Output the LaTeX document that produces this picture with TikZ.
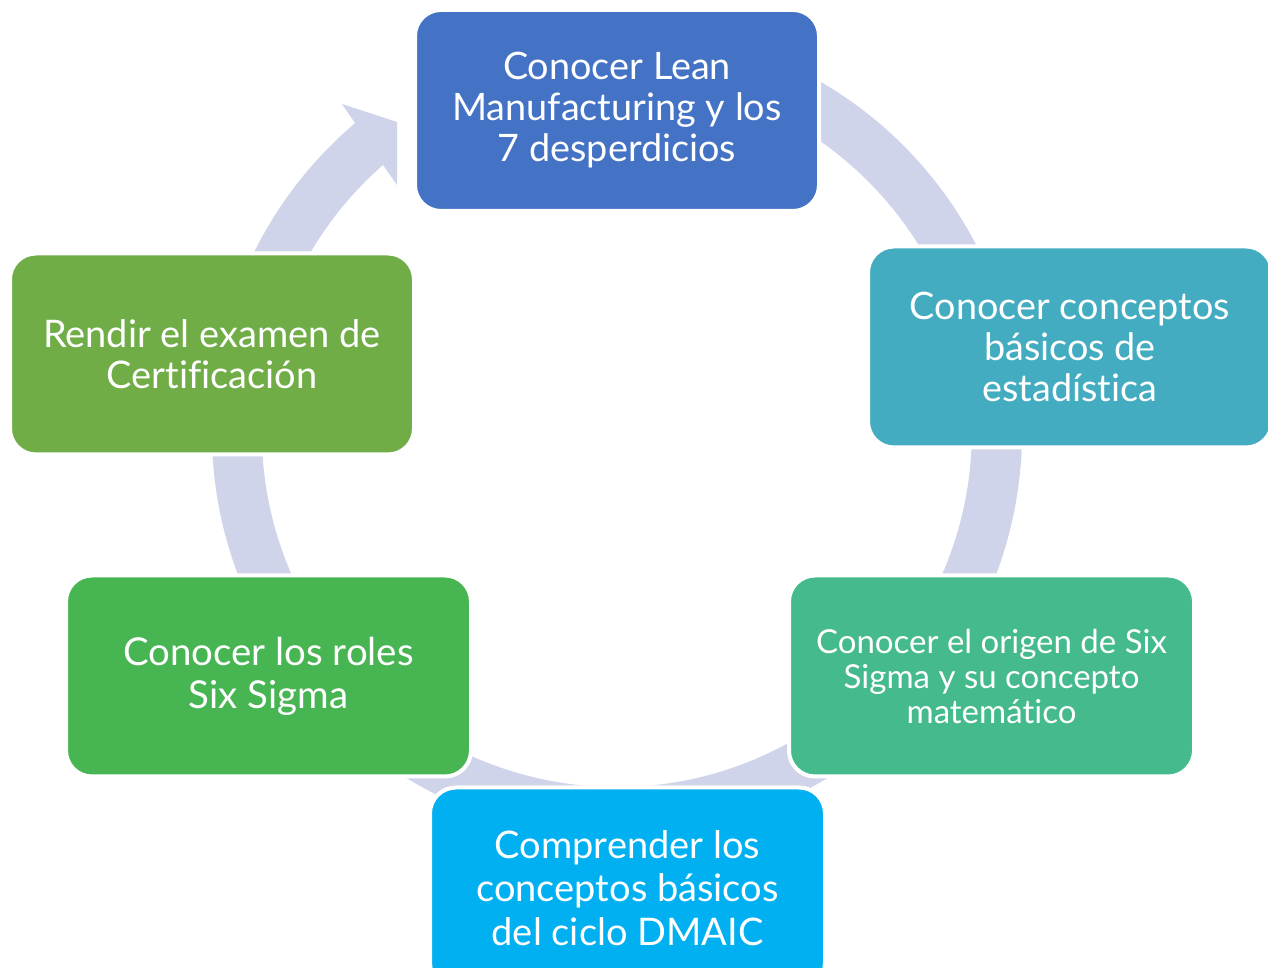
\documentclass[tikz,border=0pt]{standalone}
\usepackage{fontspec}
\setmainfont{Lato}[Ligatures=NoCommon]

\definecolor{azulLean}{HTML}{4472C4}
\definecolor{tealEstad}{HTML}{43ACC1}
\definecolor{verdeOrigen}{HTML}{44BA8D}
\definecolor{celesteDmaic}{HTML}{00B0F0}
\definecolor{verdeRoles}{HTML}{48B553}
\definecolor{verdeCert}{HTML}{70AD47}
\definecolor{lavanda}{HTML}{D0D4EA}

\tikzstyle{paso} = [rounded corners=13pt, draw=white, line width=2pt, inner sep=0, minimum width=202pt, minimum height=100.5pt, text=white, align=center]
\tikzstyle{anillo} = [fill=lavanda]

\begin{document}
\begin{tikzpicture}[x=0.5pt,y=0.5pt]
\def\ro{405}
\def\ri{355}
\useasboundingbox (0,0) rectangle (1268,968);

%   anillo del ciclo con la flecha
	\fill[anillo] (617,536) ++(75:\ro) arc[start angle=75, end angle=-229.7, radius=\ro] -- (342,864) -- (397,846) -- (397,783) -- (383,803) arc[start angle=-228.8, end angle=75, radius=\ri] -- cycle;

%   pasos
	\node[paso, fill=azulLean, font=\fontsize{18.9}{20.5}\selectfont] (lean) at (617,857.5) {Conocer Lean\\Manufacturing y los\\7 desperdicios};
	\node[paso, fill=tealEstad, font=\fontsize{18.9}{20.5}\selectfont] (estad) at (1070,621) {Conocer conceptos\\básicos de\\estadística};
	\node[paso, fill=verdeOrigen, font=\fontsize{16.5}{17.5}\selectfont, minimum width=202.5pt] (origen) at (991.5,292) {Conocer el origen de Six\\Sigma y su concepto\\matemático};
	\node[paso, fill=celesteDmaic, font=\fontsize{19}{21.8}\selectfont, minimum width=197.5pt] (dmaic) at (627.5,80) {Comprender los\\conceptos básicos\\del ciclo DMAIC};
	\node[paso, fill=verdeRoles, font=\fontsize{19.2}{21.5}\selectfont, minimum width=202.5pt] (roles) at (268.5,292) {Conocer los roles\\Six Sigma};
	\node[paso, fill=verdeCert, font=\fontsize{19}{20.5}\selectfont] (cert) at (212,614) {Rendir el examen de\\Certificación};

\end{tikzpicture}
\end{document}
